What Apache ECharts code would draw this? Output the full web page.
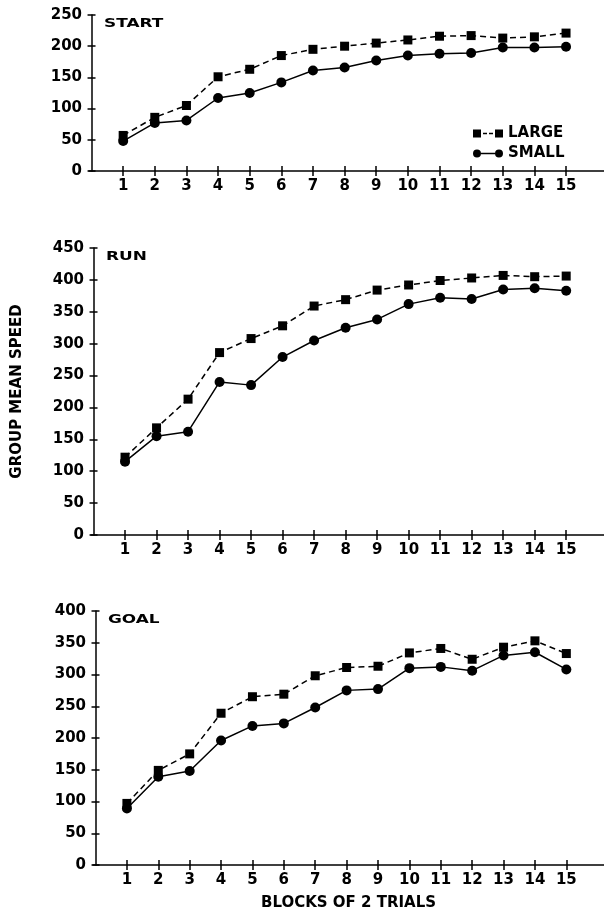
<!DOCTYPE html>
<html>
<head>
<meta charset="utf-8">
<script src="https://cdn.jsdelivr.net/npm/echarts@6/dist/echarts.min.js"></script>
<style>
html, body { margin: 0; padding: 0; background: #fff; }
#chart { width: 604px; height: 916px; }
</style>
</head>
<body>
<div id="chart"></div>
<script>
// blocks of 2 trials
const blocks = [1, 2, 3, 4, 5, 6, 7, 8, 9, 10, 11, 12, 13, 14, 15];

// START
const startLarge = [57, 86, 105, 151, 163, 185, 195, 200, 205, 210, 216, 217, 213, 215, 221];
const startSmall = [48, 77, 81, 117, 125, 142, 161, 166, 177, 185, 188, 189, 198, 198, 199];
// RUN
const runLarge = [122, 168, 213, 286, 308, 328, 359, 369, 384, 392, 399, 403, 407, 405, 406];
const runSmall = [115, 155, 162, 240, 235, 279, 305, 325, 338, 362, 372, 370, 385, 387, 383];
// GOAL
const goalLarge = [97, 149, 175, 239, 265, 269, 298, 311, 313, 334, 341, 324, 343, 353, 333];
const goalSmall = [89, 139, 148, 196, 219, 223, 248, 275, 277, 310, 312, 306, 330, 335, 308];

const panels = [
  { name: 'START', large: startLarge, small: startSmall, max: 250, top: 15, bottom: 171, left: 89 },
  { name: 'RUN', large: runLarge, small: runSmall, max: 450, top: 248, bottom: 535, left: 91 },
  { name: 'GOAL', large: goalLarge, small: goalSmall, max: 400, top: 611, bottom: 865, left: 93 }
];

const font = 'DejaVu Sans';
const txt = { color: '#000', fontFamily: font, fontWeight: 'bold', fontSize: 14 };
const tickStyle = { color: '#000', width: 1.5 };

function pairs(vals) {
  return blocks.map((b, i) => [b, vals[i]]);
}

var chart = echarts.init(document.getElementById('chart'));

let grids = [], xAxes = [], yAxes = [], series = [], texts = [];
panels.forEach(function (p, k) {
  grids.push({ left: p.left, right: 0, top: p.top, height: p.bottom - p.top });
  let xBase = {
    type: 'value', gridIndex: k, position: 'bottom',
    min: -0.08, max: 16.2,
    splitLine: { show: false }
  };
  // main x axis, ticks going down
  xAxes.push(Object.assign({}, xBase, {
    axisLine: { lineStyle: { color: '#000', width: 1.5 } },
    axisTick: { show: true, length: 5, customValues: blocks, lineStyle: tickStyle },
    axisLabel: Object.assign({ customValues: blocks, margin: 8 }, txt, { fontSize: 15 }),
    name: k == 2 ? 'BLOCKS OF 2 TRIALS' : '',
    nameLocation: 'middle',
    nameGap: 31,
    nameTextStyle: Object.assign({}, txt, { fontSize: 15 })
  }));
  // second x axis, ticks going up so they cross
  xAxes.push(Object.assign({}, xBase, {
    axisLine: { show: false },
    axisTick: { show: true, inside: true, length: 5, customValues: blocks, lineStyle: tickStyle },
    axisLabel: { show: false }
  }));
  let yBase = {
    type: 'value', gridIndex: k, position: 'left', min: 0, max: p.max, interval: 50,
    splitLine: { show: false }
  };
  yAxes.push(Object.assign({}, yBase, {
    axisLine: { show: true, lineStyle: { color: '#000', width: 1.5 } },
    axisTick: { show: true, length: 4, lineStyle: tickStyle },
    axisLabel: Object.assign({ margin: 7 }, txt, { fontSize: 15 }),
    name: k == 1 ? 'GROUP MEAN SPEED' : '',
    nameLocation: 'middle',
    nameGap: 66,
    nameTextStyle: Object.assign({}, txt, { fontSize: 15 })
  }));
  yAxes.push(Object.assign({}, yBase, {
    axisLine: { show: false },
    axisTick: { show: true, inside: true, length: 4, lineStyle: tickStyle },
    axisLabel: { show: false }
  }));
  // panel label, stretched like the original lettering
  texts.push({
    type: 'text', left: p.left + 15, top: p.top + 2,
    scaleX: 1.3,
    style: { text: p.name, fill: '#000', font: 'bold 13px "DejaVu Sans"' }
  });
  series.push({
    name: 'LARGE', type: 'line', xAxisIndex: k * 2, yAxisIndex: k * 2,
    data: pairs(p.large),
    symbol: 'rect', symbolSize: 9,
    lineStyle: { color: '#000', width: 1.5, type: [6, 4] },
    itemStyle: { color: '#000' },
    z: 3
  });
  series.push({
    name: 'SMALL', type: 'line', xAxisIndex: k * 2, yAxisIndex: k * 2,
    data: pairs(p.small),
    symbol: 'circle', symbolSize: 10,
    lineStyle: { color: '#000', width: 1.5 },
    itemStyle: { color: '#000' },
    z: 4
  });
});

var option = {
  backgroundColor: '#fff',
  animation: false,
  graphic: texts,
  grid: grids,
  xAxis: xAxes,
  yAxis: yAxes,
  legend: {
    orient: 'vertical', left: 468, top: 121,
    itemWidth: 30, itemHeight: 8, itemGap: 5,
    selectedMode: false,
    textStyle: Object.assign({}, txt, { fontSize: 15 }),
    data: [
      { name: 'LARGE', icon: 'path://M0,0h8v8h-8z M10,3.3h4v1.4h-4z M16,3.3h4v1.4h-4z M22,0h8v8h-8z' },
      { name: 'SMALL', icon: 'path://M0,4a4,4 0 1,0 8,0a4,4 0 1,0 -8,0z M8,3.3h14v1.4h-14z M22,4a4,4 0 1,0 8,0a4,4 0 1,0 -8,0z' }
    ]
  },
  series: series
};
chart.setOption(option);
</script>
</body>
</html>
